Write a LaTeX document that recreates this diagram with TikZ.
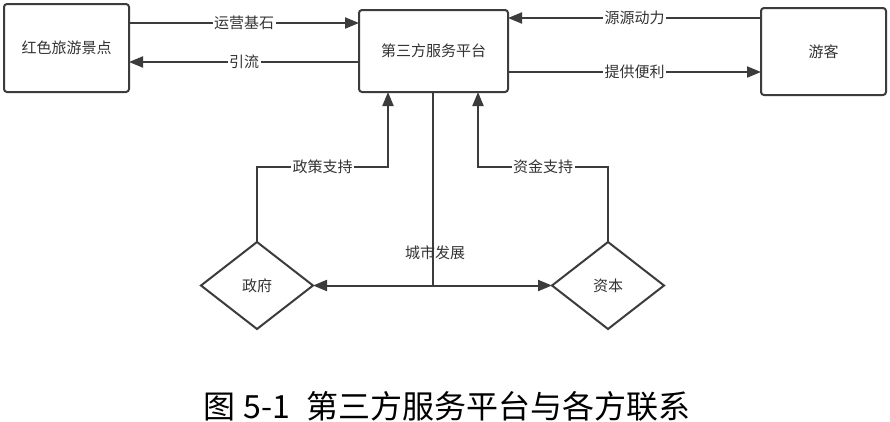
\documentclass[tikz,border=0pt]{standalone}
\usepackage{fontspec}
\setmainfont{Noto Sans CJK SC}
\usetikzlibrary{arrows.meta,shapes.geometric}
\definecolor{linec}{HTML}{3C3C3C}
\definecolor{txtc}{HTML}{333333}
\begin{document}
\begin{tikzpicture}[x=1pt,y=-1pt,
  box/.style={draw=linec, line width=2pt, rounded corners=3pt, fill=white, outer sep=0pt, inner sep=0pt, text=txtc, font=\fontsize{15}{18}\selectfont},
  dia/.style={diamond, draw=linec, line width=2pt, fill=white, outer sep=0pt, inner sep=0pt, minimum width=112pt, minimum height=87pt, text=txtc, font=\fontsize{15}{18}\selectfont},
  conn/.style={draw=linec, line width=2pt},
  arr/.style={conn, -{Triangle[length=14pt,width=11pt]}},
  lbl/.style={fill=white, inner sep=1.5pt, text=txtc, font=\fontsize{15}{18}\selectfont}]
\useasboundingbox (0,0) rectangle (890,421);
\fill[white] (0,0) rectangle (890,421);
\node[box, minimum width=125pt, minimum height=88pt] (red) at (66.5,48) {红色旅游景点};
\node[box, minimum width=149pt, minimum height=82pt] (plat) at (433.5,51) {第三方服务平台};
\node[box, minimum width=125pt, minimum height=87pt] (tour) at (823.5,51.5) {游客};
\node[dia] (gov) at (257,285.5) {政府};
\node[dia] (cap) at (608,285.5) {资本};
% top arrows
\draw[arr] (red.east |- 0,23) -- node[lbl] {运营基石} (plat.west |- 0,23);
\draw[arr] (plat.west |- 0,62) -- node[lbl] {引流} (red.east |- 0,62);
\draw[arr] (tour.west |- 0,18) -- node[lbl] {源源动力} (plat.east |- 0,18);
\draw[arr] (plat.east |- 0,72) -- node[lbl] {提供便利} (tour.west |- 0,72);
% support arrows
\coordinate (p1) at (388,167);
\coordinate (p2) at (478,167);
\draw[arr] (gov.north) |- node[lbl, pos=0.75] {政策支持} (p1) -- (p1 |- plat.south);
\draw[arr] (cap.north) |- node[lbl, pos=0.75] {资金支持} (p2) -- (p2 |- plat.south);
% city development
\coordinate (j) at (433,285.5);
\draw[conn] (plat.south -| j) -- (j);
\draw[arr] (j) -- (gov.east);
\draw[arr] (j) -- (cap.west);
\node[text=txtc, font=\fontsize{15}{18}\selectfont] (city) at (435,253) {城市发展};
% caption
\node[text=black, font=\fontsize{32}{38}\selectfont, anchor=west] (cap-text) at (200,406) {图\hspace{8pt}5-1\hspace{16pt}第三方服务平台与各方联系};
\end{tikzpicture}
\end{document}
